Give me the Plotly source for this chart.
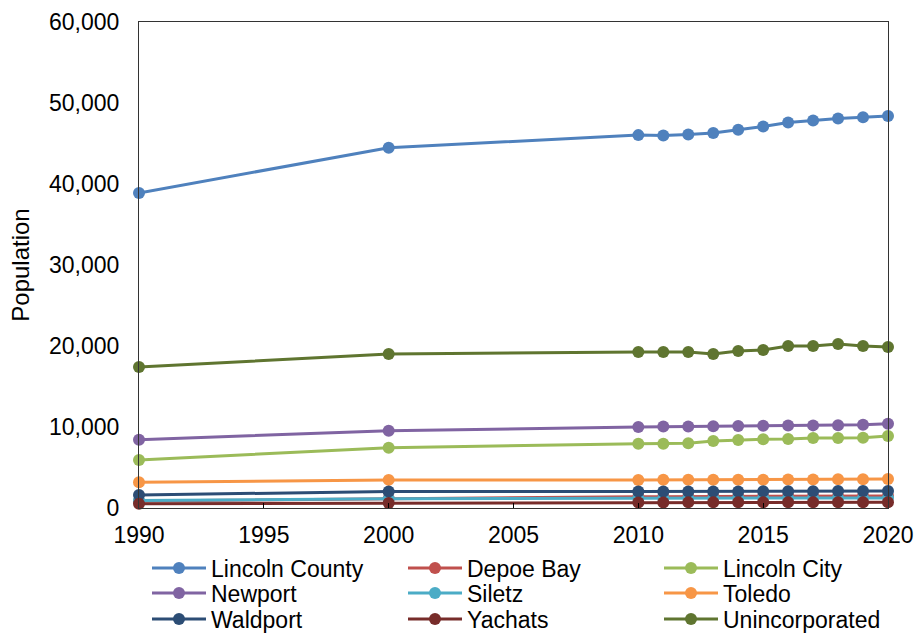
import plotly.graph_objects as go

# Population estimates, Lincoln County (Oregon) and its cities
years = [1990, 2000, 2010, 2011, 2012, 2013, 2014, 2015, 2016, 2017, 2018, 2019, 2020]

lincoln_county = [38889, 44479, 46034, 46000, 46100, 46300, 46700, 47100, 47600, 47850, 48100, 48250, 48400]
depoe_bay = [870, 1174, 1398, 1400, 1405, 1410, 1420, 1430, 1440, 1450, 1460, 1470, 1480]
lincoln_city = [5926, 7437, 7930, 7930, 8000, 8270, 8390, 8500, 8520, 8640, 8650, 8660, 8890]
newport = [8437, 9532, 9989, 10060, 10060, 10100, 10130, 10160, 10180, 10200, 10230, 10280, 10400]
siletz = [926, 1133, 1212, 1215, 1220, 1220, 1225, 1230, 1230, 1235, 1240, 1240, 1245]
toledo = [3174, 3472, 3465, 3480, 3480, 3485, 3490, 3500, 3520, 3530, 3540, 3560, 3580]
waldport = [1595, 2050, 2033, 2040, 2040, 2045, 2050, 2060, 2070, 2080, 2090, 2100, 2110]
yachats = [533, 617, 690, 690, 695, 700, 705, 705, 710, 715, 715, 720, 720]
unincorporated = [17400, 19010, 19260, 19260, 19260, 19010, 19380, 19500, 20000, 20000, 20250, 20000, 19880]

series = [
    ("Lincoln County", lincoln_county, "#4F81BD"),
    ("Depoe Bay", depoe_bay, "#C0504D"),
    ("Lincoln City", lincoln_city, "#9BBB59"),
    ("Newport", newport, "#8064A2"),
    ("Siletz", siletz, "#4BACC6"),
    ("Toledo", toledo, "#F79646"),
    ("Waldport", waldport, "#2C4D75"),
    ("Yachats", yachats, "#772C2A"),
    ("Unincorporated", unincorporated, "#5F7530"),
]

W, H = 916, 636
MT, MB = 22, 128
plot_left, plot_right = 139, 888
plot_bottom = H - MB
plot_h = H - MT - MB

font_family = "Liberation Sans, Arial, sans-serif"
legend_names = ["legend", "legend2", "legend3"]
legend_rows_px = [568, 593, 619]   # vertical centre of each legend row

fig = go.Figure()
for i, (name, values, color) in enumerate(series):
    fig.add_trace(go.Scatter(
        x=years, y=values, name=name, mode="lines+markers",
        line=dict(color=color, width=3),
        marker=dict(color=color, size=12, symbol="circle"),
        cliponaxis=False,
        legend=legend_names[i // 3],
    ))

legend_common = dict(
    orientation="h",
    x=147 / W, xanchor="left",
    yanchor="middle",
    entrywidth=187,
    itemwidth=54,
    font=dict(size=23, family=font_family, color="#000000"),
    bgcolor="rgba(0,0,0,0)",
)
legend_layout = {
    key: dict(legend_common, y=-(row_px - plot_bottom) / plot_h)
    for key, row_px in zip(legend_names, legend_rows_px)
}

fig.update_layout(
    width=W, height=H,
    template="none",
    paper_bgcolor="white", plot_bgcolor="white",
    margin=dict(l=0, r=0, t=MT, b=MB, autoexpand=False),
    font=dict(family=font_family, size=23, color="#000000"),
    showlegend=True,
    **legend_layout,
    xaxis=dict(
        domain=[plot_left / W, plot_right / W],
        range=[1990, 2020],
        tick0=1990, dtick=5,
        ticks="inside", ticklen=5, tickcolor="#000000",
        showline=True, linecolor="#333333", linewidth=1, mirror=True,
        showgrid=False, zeroline=False,
        automargin=False,
        ticklabelstandoff=6,
        tickfont=dict(size=23),
    ),
    yaxis=dict(
        range=[0, 60000],
        dtick=10000, tickformat=",",
        ticks="", showline=True, linecolor="#333333", linewidth=1, mirror=True,
        showgrid=False, zeroline=False,
        automargin=False,
        ticklabelstandoff=14,
        tickfont=dict(size=23),
        title=dict(text="Population", font=dict(size=24), standoff=12),
    ),
)

fig.write_html("out.html")
